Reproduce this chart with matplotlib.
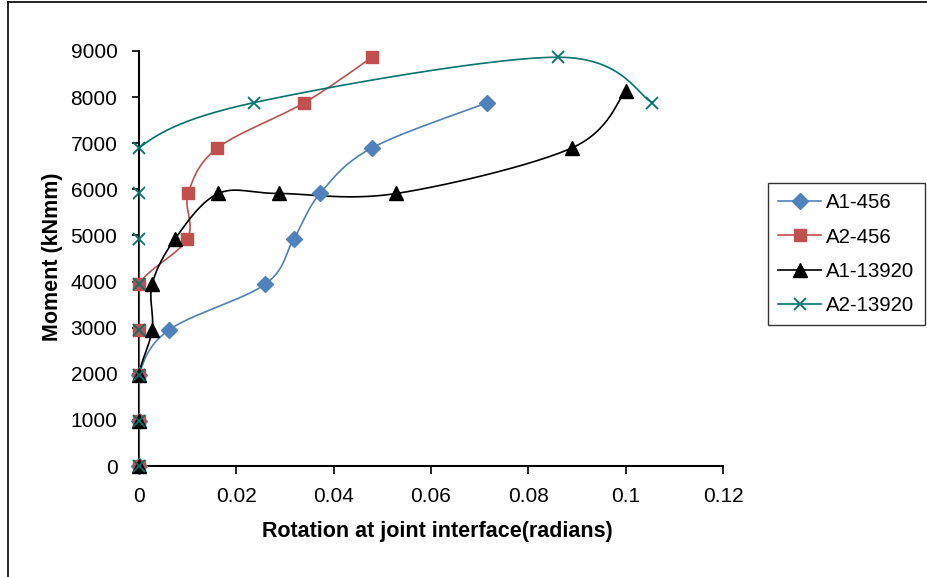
import numpy as np
import matplotlib
matplotlib.use("Agg")
import matplotlib.pyplot as plt
from matplotlib.lines import Line2D

plt.rcParams['font.family'] = ['Liberation Sans', 'DejaVu Sans']

a1_456_x = [0, 0, 0, 0.0062, 0.0259, 0.0318, 0.0372, 0.0478, 0.0716]
a1_456_y = [0, 985, 1970, 2955, 3940, 4925, 5910, 6895, 7880]

a2_456_x = [0, 0, 0, 0, 0, 0.0099, 0.0101, 0.0161, 0.0340, 0.0479]
a2_456_y = [0, 985, 1970, 2955, 3940, 4925, 5910, 6895, 7880, 8865]

a1_13920_x = [0, 0, 0, 0.0027, 0.0027, 0.0074, 0.0163, 0.0288, 0.0529, 0.0889, 0.1000]
a1_13920_y = [0, 985, 1970, 2955, 3940, 4925, 5910, 5910, 5910, 6895, 8130]

a2_13920_x = [0, 0, 0, 0, 0, 0, 0, 0, 0.0236, 0.0860, 0.1055]
a2_13920_y = [0, 985, 1970, 2955, 3940, 4925, 5910, 6895, 7880, 8865, 7880]

series_names = ["A1-456", "A2-456", "A1-13920", "A2-13920"]
series_x = [a1_456_x, a2_456_x, a1_13920_x, a2_13920_x]
series_y = [a1_456_y, a2_456_y, a1_13920_y, a2_13920_y]
colors = ["#4F81BD", "#C0504D", "#000000", "#007470"]
markers = ["D", "s", "^", "x"]
msizes = [8, 9, 10, 8.5]

x_ticks = [0, 0.02, 0.04, 0.06, 0.08, 0.1, 0.12]
x_ticklabels = ["0", "0.02", "0.04", "0.06", "0.08", "0.1", "0.12"]
y_ticks = [0, 1000, 2000, 3000, 4000, 5000, 6000, 7000, 8000, 9000]

W, H = 927, 577
fig = plt.figure(figsize=(W / 100, H / 100), dpi=100)
ax = fig.add_axes([139 / W, 1 - 466 / H, (723 - 139) / W, (466 - 51) / H])
XMAX, YMAX = 0.12, 9000
ax.set_xlim(0, XMAX)
ax.set_ylim(0, YMAX)
axw, axh = 723 - 139, 466 - 51


def smooth(xs, ys, n=30):
    # Excel-style smoothing (Catmull-Rom Bezier) done in screen space
    px = np.array(xs) / XMAX * axw
    py = np.array(ys) / YMAX * axh
    pts = np.column_stack([px, py])
    out = [pts[0]]
    m = len(pts)
    for i in range(m - 1):
        p0 = pts[i - 1] if i > 0 else pts[i]
        p1 = pts[i]
        p2 = pts[i + 1]
        p3 = pts[i + 2] if i + 2 < m else pts[i + 1]
        c1 = p1 + (p2 - p0) / 6
        c2 = p2 - (p3 - p1) / 6
        t = np.linspace(0, 1, n)[1:, None]
        seg = ((1 - t) ** 3) * p1 + 3 * ((1 - t) ** 2) * t * c1 + 3 * (1 - t) * t ** 2 * c2 + t ** 3 * p2
        out.extend(seg)
    out = np.array(out)
    return out[:, 0] / axw * XMAX, out[:, 1] / axh * YMAX


handles = []
for name, xs, ys, col, mk, ms in zip(series_names, series_x, series_y, colors, markers, msizes):
    sx, sy = smooth(xs, ys)
    ax.plot(sx, sy, color=col, lw=1.2, zorder=2, clip_on=True)
    if mk == "x":
        ax.plot(xs, ys, ls="none", marker=mk, ms=ms, mew=1.3, color=col, zorder=3, clip_on=False)
    else:
        ax.plot(xs, ys, ls="none", marker=mk, ms=ms, mfc=col, mec=col, zorder=3, clip_on=False)
    handles.append(Line2D([], [], color=col, lw=1.2, marker=mk, ms=ms,
                          mew=1.3 if mk == "x" else 1, mfc=col, mec=col))

for s in ["top", "right"]:
    ax.spines[s].set_visible(False)
for s in ["left", "bottom"]:
    ax.spines[s].set_linewidth(1.5)
    ax.spines[s].set_color("black")
    ax.spines[s].set_zorder(1)

ax.set_xticks(x_ticks)
ax.set_xticklabels(x_ticklabels)
ax.set_yticks(y_ticks)
ax.tick_params(axis="x", direction="out", length=6, width=1.2, pad=9, labelsize=15)
ax.tick_params(axis="y", direction="out", length=5, width=1.2, pad=10.5, labelsize=15)

ax.set_xlabel("Rotation at joint interface(radians)", fontsize=15.5, fontweight="bold", va="center")
ax.set_ylabel("Moment (kNmm)", fontsize=15.5, fontweight="bold", va="center")
ax.xaxis.set_label_coords((437 - 139) / axw, -(532 - 466) / axh)
ax.yaxis.set_label_coords((53 - 139) / axw, (466 - 257) / axh)

leg = fig.legend(handles, series_names, loc="upper left",
                 bbox_to_anchor=(768 / W, 1 - 183 / H), fontsize=14.7, frameon=True,
                 fancybox=False, edgecolor="black", handlelength=2.1, labelspacing=0.75,
                 borderpad=0.5, handletextpad=0.25, borderaxespad=0)
leg.get_frame().set_linewidth(1.0)

# outer chart frame
fig.add_artist(Line2D([8 / W, 8 / W], [0, 1 - 2 / H], color="black", lw=1.2, transform=fig.transFigure))
fig.add_artist(Line2D([8 / W, 1], [1 - 2 / H, 1 - 2 / H], color="black", lw=1.2, transform=fig.transFigure))

fig.savefig("out.png", dpi=100)
